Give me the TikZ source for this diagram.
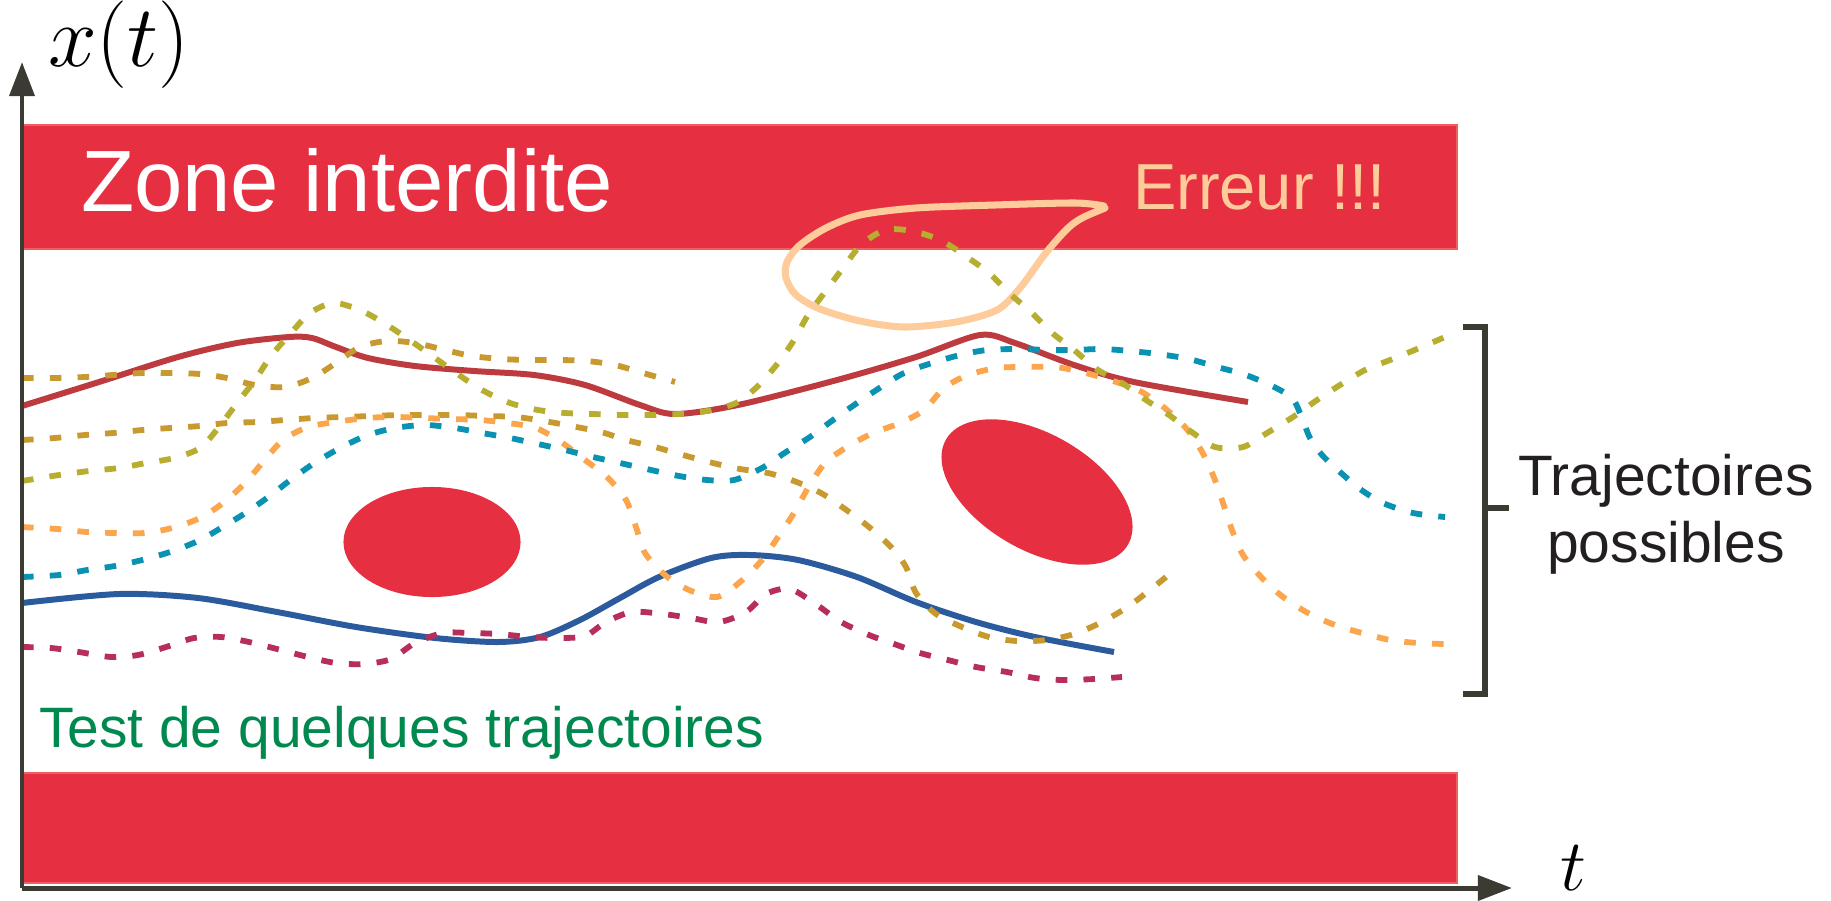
\documentclass[tikz,border=0pt]{standalone}
\usepackage[no-math]{fontspec}
\newfontfamily\arial{Liberation Sans}
\usetikzlibrary{arrows.meta}
\definecolor{bandred}{HTML}{E63042}
\definecolor{bandedge}{HTML}{EE6060}
\definecolor{axisgray}{HTML}{3B3B34}
\definecolor{cRed}{HTML}{BD3A3F}
\definecolor{cBlue}{HTML}{2B5B9C}
\definecolor{cMagenta}{HTML}{B72E5B}
\definecolor{cTeal}{HTML}{0A92B3}
\definecolor{cOrange}{HTML}{FBA54D}
\definecolor{cMustard}{HTML}{C7992E}
\definecolor{cOlive}{HTML}{B7AE30}
\definecolor{cPeach}{HTML}{FECC9A}
\definecolor{cGreen}{HTML}{00894F}
\definecolor{cDark}{HTML}{231F20}
\begin{document}
\begin{tikzpicture}[x=0.01cm,y=-0.01cm,
  band/.style={fill=bandred, draw=bandedge, line width=0.3pt},
  obst/.style={fill=bandred},
  trajsolid/.style={line width=1.7pt, line cap=butt},
  trajd/.style={line width=1.65pt, dash pattern=on 3.3pt off 4.6pt},
  axisline/.style={draw=axisgray, line width=1.42pt, -{Triangle[length=9.7pt,width=7pt]}},
  brack/.style={draw=axisgray, line width=1.7pt, line join=miter},
  lbl/.style={inner sep=0pt, outer sep=0pt}]
\useasboundingbox (0,0) rectangle (1831,900);

% forbidden zones
\path[band] (22,125) rectangle (1457,249);
\path[band] (22,773) rectangle (1457,883);

% obstacles
\fill[obst] (432,542) ellipse [x radius=0.885cm, y radius=0.55cm];
\fill[obst, rotate around={-30:(1037,492)}] (1037,492) ellipse [x radius=1.05cm, y radius=0.58cm];

% solid trajectories
\draw[trajsolid, cRed] plot[smooth, tension=0.5] coordinates {(22,406) (99,382) (178,357) (237,343) (289,337) (312,338) (336,347) (368,358) (415,366) (474,371) (534,375) (585,385) (640,405) (675,414) (738,405) (837,380) (916,357) (980,335) (1015,343) (1074,365) (1134,382) (1248,402)};
\draw[trajsolid, cBlue] plot[smooth, tension=0.5] coordinates {(22,603) (119,594) (198,598) (277,612) (356,627) (435,638) (498,642) (540,637) (580,620) (620,598) (659,577) (711,558) (750,555) (798,560) (857,577) (916,602) (976,622) (1035,637) (1114,652)};

% error loop
\draw[cPeach, line width=2pt, line join=round, line cap=round] plot[smooth, tension=0.5] coordinates {(1104,206) (1075,203) (995,205) (916,208) (860,215) (826,228) (800,245) (787,262) (786,278) (796,295) (820,309) (860,321) (904,327) (956,322) (997,310) (1020,288) (1045,254) (1067,229) (1082,218) (1105,208)};

% dashed trajectories
\draw[trajd, cMustard] plot[smooth, tension=0.5] coordinates {(22,378) (55,378) (85,377) (113,375) (142,373) (170,373) (200,374) (227,378) (255,385) (285,387) (312,378) (336,363) (360,347) (387,341) (415,343) (445,350) (472,356) (502,359) (530,360) (560,360) (587,361) (615,365) (643,373) (675,382)};
\draw[trajd, cMustard] plot[smooth, tension=0.5] coordinates {(22,440) (55,438) (85,435) (113,433) (142,430) (170,428) (200,426) (227,423) (257,422) (285,420) (314,418) (342,417) (372,416) (399,415) (429,415) (457,415) (486,416) (516,417) (544,421) (571,426) (601,432) (626,440) (655,447) (683,455) (713,463) (740,469) (768,473) (794,481) (821,493) (845,509) (869,527) (891,547) (906,567) (916,593) (936,614) (962,627) (989,637) (1017,641) (1047,640) (1074,634) (1100,623) (1126,608) (1150,590) (1172,572)};
\draw[trajd, cOrange] plot[smooth, tension=0.5] coordinates {(22,527) (57,529) (87,532) (115,533) (144,533) (172,528) (200,518) (223,503) (245,483) (263,462) (283,440) (308,427) (336,422) (366,418) (395,417) (423,418) (451,419) (480,420) (508,423) (536,428) (561,442) (585,460) (608,478) (626,500) (636,527) (645,553) (665,575) (689,590) (717,597) (740,582) (762,560) (778,537) (794,513) (808,488) (825,463) (847,447) (873,433) (900,423) (924,410) (944,388) (968,375) (997,368) (1025,367) (1055,367) (1082,372) (1110,380) (1138,390) (1161,405) (1185,427) (1201,450) (1213,475) (1223,503) (1232,530) (1243,555) (1262,578) (1283,597) (1308,613) (1335,625) (1362,633) (1390,640) (1418,643) (1445,644)};
\draw[trajd, cTeal] plot[smooth, tension=0.5] coordinates {(22,577) (59,575) (87,570) (115,566) (142,560) (170,552) (198,541) (221,528) (247,512) (271,495) (293,478) (316,462) (342,447) (368,435) (395,428) (425,425) (455,428) (482,433) (510,438) (538,444) (565,450) (593,457) (620,463) (651,470) (679,476) (707,480) (734,480) (762,468) (786,452) (810,437) (833,420) (857,403) (881,387) (904,373) (932,363) (960,355) (987,350) (1019,349) (1047,350) (1074,350) (1102,349) (1130,351) (1158,354) (1189,359) (1217,367) (1243,374) (1270,385) (1292,398) (1302,418) (1310,438) (1322,455) (1340,472) (1360,489) (1383,503) (1413,513) (1445,517)};
\draw[trajd, cOlive] plot[smooth, tension=0.5] coordinates {(22,481) (59,475) (89,471) (119,468) (146,463) (174,458) (200,448) (219,427) (237,403) (255,380) (271,356) (291,333) (310,313) (334,303) (362,311) (387,325) (411,341) (435,358) (459,375) (482,390) (510,403) (538,410) (565,413) (593,414) (624,415) (651,415) (679,414) (707,411) (736,403) (758,386) (778,363) (794,340) (808,315) (825,292) (843,268) (861,245) (885,230) (912,231) (940,240) (964,255) (989,273) (1009,293) (1031,312) (1051,332) (1074,350) (1098,370) (1122,383) (1146,400) (1169,415) (1193,433) (1215,447) (1243,447) (1267,433) (1293,417) (1317,400) (1340,385) (1365,370) (1390,360) (1417,349) (1445,337)};
\draw[trajd, cMagenta] plot[smooth, tension=0.5] coordinates {(22,647) (51,648) (79,652) (111,657) (138,655) (166,647) (194,638) (221,637) (249,642) (277,649) (308,657) (336,663) (364,664) (391,659) (415,643) (443,633) (470,633) (498,634) (530,637) (558,638) (585,636) (606,622) (632,612) (663,614) (691,618) (719,622) (746,612) (766,594) (790,589) (817,605) (841,622) (869,635) (897,645) (920,653) (948,660) (976,667) (1007,672) (1035,678) (1063,680) (1094,679) (1122,677)};

% bracket
\draw[brack] (1463,327) -- (1485,327) -- (1485,694) -- (1463,694);
\draw[brack] (1485,508) -- (1509,508);

% texts
\node[lbl, anchor=base west, text=white, font=\arial\fontsize{24.75}{29}\selectfont] (zone) at (81,211) {Zone interdite};
\node[lbl, anchor=base west, text=cPeach, font=\arial\fontsize{18.5}{22}\selectfont] (err) at (1133,209) {Erreur !!!};
\node[lbl, anchor=base west, text=cGreen, font=\arial\fontsize{16.2}{19}\selectfont] (test) at (39,747) {Test de quelques trajectoires};
\node[lbl, anchor=base, text=cDark, font=\arial\fontsize{16.2}{19}\selectfont] (traj1) at (1666,495) {Trajectoires};
\node[lbl, anchor=base, text=cDark, font=\arial\fontsize{16.2}{19}\selectfont] (traj2) at (1666,562) {possibles};

% axes
\coordinate (O) at (22,888);
\coordinate (xend) at (1512,888);
\coordinate (yend) at (22,62);
\draw[axisline] (O) -- (xend);
\draw[axisline] (O) -- (yend);
\node[lbl, anchor=base west, font=\fontsize{25}{30}\selectfont] (xlab) at (48,67) {$x(t)$};
\node[lbl, anchor=base west, font=\fontsize{21.5}{26}\selectfont] (tlab) at (1560,890) {$t$};
\end{tikzpicture}
\end{document}
